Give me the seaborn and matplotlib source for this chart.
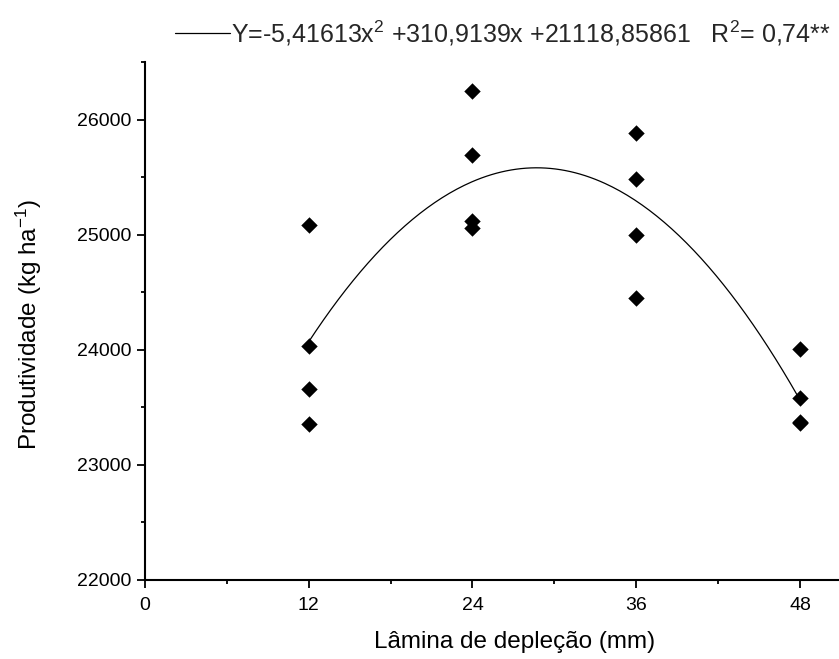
import numpy as np
import pandas as pd
import matplotlib
matplotlib.use("Agg")
import matplotlib.pyplot as plt
import seaborn as sns
from matplotlib.ticker import MultipleLocator

sns.set_theme(style="ticks")
plt.rcParams['font.family'] = ['Liberation Sans', 'DejaVu Sans']
plt.rcParams['mathtext.fontset'] = 'custom'
plt.rcParams['mathtext.rm'] = 'Liberation Sans'
plt.rcParams['mathtext.it'] = 'Liberation Sans:italic'
plt.rcParams['mathtext.bf'] = 'Liberation Sans:bold'

# Data
lamina = [12, 12, 12, 12, 24, 24, 24, 24, 36, 36, 36, 36, 48, 48, 48, 48]
produtividade = [25088, 24036, 23657, 23359,
                 26250, 25689, 25122, 25059,
                 25879, 25481, 24998, 24452,
                 24009, 23581, 23375, 23360]
coef = [-5.41613, 310.9139, 21118.85861]  # quadratic fit from the legend
fit_range = [12, 48]
legend_label = r"Y=-5,41613x$^2$ +310,9139x +21118,85861   R$^2$= 0,74**"

df = pd.DataFrame({"x": lamina, "y": produtividade})
xf = np.linspace(fit_range[0], fit_range[1], 200)
fit = pd.DataFrame({"x": xf, "y": np.polyval(coef, xf)})

fig = plt.figure(figsize=(8.39, 6.59), dpi=100)
ax = fig.add_axes([145/839, 79/659, 1 - 145/839, (580-62)/659])

sns.lineplot(data=fit, x="x", y="y", ax=ax, color="black", linewidth=0.9,
             label=legend_label)
sns.scatterplot(data=df, x="x", y="y", ax=ax, marker="D", color="black",
                s=70, edgecolor="black", linewidth=0, legend=False, zorder=3)

ax.set_xlim(0, 50.86)
ax.set_ylim(22000, 26500)
ax.set_xticks([0, 12, 24, 36, 48])
ax.xaxis.set_minor_locator(MultipleLocator(6))
ax.set_yticks([22000, 23000, 24000, 25000, 26000])
ax.yaxis.set_minor_locator(MultipleLocator(500))
ax.tick_params(which="major", direction="out", length=6, width=1.3,
               labelsize=14, color="black", labelcolor="black", pad=4)
ax.tick_params(axis="x", which="major", pad=6)
ax.tick_params(which="minor", direction="out", length=3, width=1.3, color="black")
sns.despine(ax=ax)
for s in ["left", "bottom"]:
    ax.spines[s].set_linewidth(1.5)
    ax.spines[s].set_color("black")

ax.set_xlabel("Lâmina de depleção (mm)", fontsize=17.5, color="black")
ax.set_ylabel(r"Produtividade (kg ha$^{-1}$)", fontsize=17.5, color="black")
ax.xaxis.set_label_coords(0.533, -0.099)
ax.yaxis.set_label_coords(-0.145, 0.494)

leg = ax.legend(loc="center left", bbox_to_anchor=(175/839, 1 - 33/659),
                bbox_transform=fig.transFigure, frameon=False, fontsize=18,
                handlelength=2.2, handletextpad=0.05, borderpad=0, borderaxespad=0)

fig.savefig("out.png", dpi=100)
